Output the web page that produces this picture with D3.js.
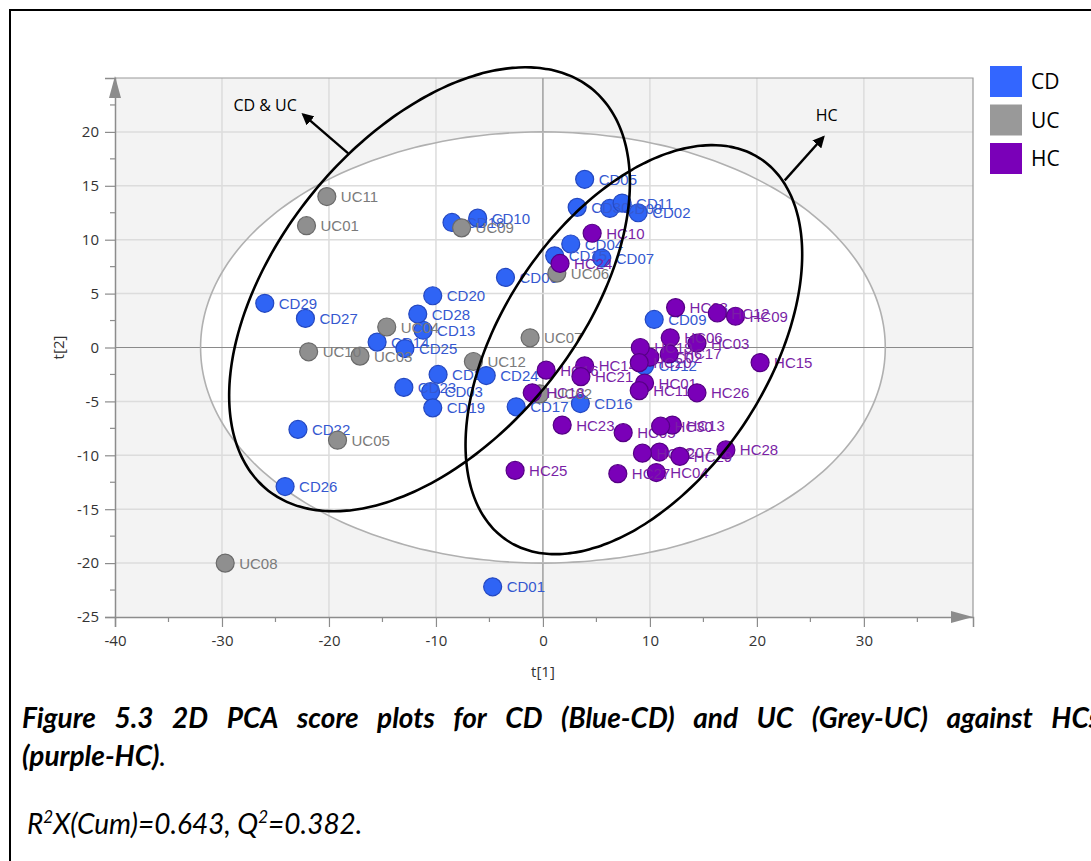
<!DOCTYPE html>
<html>
<head>
<meta charset="utf-8">
<script src="https://cdn.jsdelivr.net/npm/d3@7"></script>
<style>
  body { margin: 0; background: #fff; }
  svg { display: block; }
</style>
</head>
<body>
<svg id="chart" width="1091" height="861"></svg>
<script>
// PCA scores t[1], t[2]
const cdScores = [
  ["CD01", -4.7, -22.2], ["CD02", 8.9, 12.5], ["CD03", -10.5, -4.1], ["CD04", 2.6, 9.6],
  ["CD05", 3.9, 15.6], ["CD06", -3.5, 6.5], ["CD07", 5.5, 8.3], ["CD08", 6.25, 12.9],
  ["CD09", 10.4, 2.6], ["CD10", -6.1, 12.0], ["CD11", 7.4, 13.4], ["CD12", 9.5, -1.7],
  ["CD13", -11.2, 1.6], ["CD14", -15.5, 0.5], ["CD15", 1.1, 8.5], ["CD16", 3.5, -5.2],
  ["CD17", -2.5, -5.5], ["CD18", -8.5, 11.6], ["CD19", -10.3, -5.6], ["CD20", -10.3, 4.8],
  ["CD21", -9.8, -2.5], ["CD22", -22.9, -7.6], ["CD23", -13.0, -3.7], ["CD24", -5.3, -2.6],
  ["CD25", -12.9, -0.1], ["CD26", -24.1, -12.9], ["CD27", -22.2, 2.7], ["CD28", -11.7, 3.1],
  ["CD29", -26.0, 4.1], ["CD30", 3.2, 13.0]
];
const ucScores = [
  ["UC01", -22.1, 11.3], ["UC02", -0.3, -4.3], ["UC03", -17.1, -0.8], ["UC04", -14.6, 1.9],
  ["UC05", -19.2, -8.6], ["UC06", 1.3, 6.9], ["UC07", -1.2, 0.9], ["UC08", -29.7, -20.0],
  ["UC09", -7.6, 11.1], ["UC10", -21.9, -0.4], ["UC11", -20.2, 14.0], ["UC12", -6.5, -1.3]
];
const hcScores = [
  ["HC01", 9.5, -3.3], ["HC02", 10.0, -0.9], ["HC03", 14.4, 0.4], ["HC04", 10.6, -11.6],
  ["HC05", 7.5, -7.9], ["HC06", 11.9, 0.9], ["HC07", 10.9, -9.7], ["HC08", 12.4, 3.7],
  ["HC09", 18.0, 2.9], ["HC10", 4.6, 10.6], ["HC11", 9.0, -4.0], ["HC12", 16.3, 3.2],
  ["HC13", 12.1, -7.2], ["HC14", 3.9, -1.7], ["HC15", 20.3, -1.4], ["HC16", 0.3, -2.1],
  ["HC17", 11.8, -0.6], ["HC18", -1.0, -4.2], ["HC19", 9.1, 0.0], ["HC20", 9.0, -1.4],
  ["HC21", 3.55, -2.7], ["HC22", 9.3, -9.8], ["HC23", 1.8, -7.2], ["HC24", 1.6, 7.8],
  ["HC25", -2.6, -11.4], ["HC26", 14.4, -4.2], ["HC27", 7.0, -11.7], ["HC28", 17.1, -9.5],
  ["HC29", 12.8, -10.1], ["HC30", 11.0, -7.3]
];
const groupNames = ["CD", "UC", "HC"];
const xTicks = [-40, -30, -20, -10, 0, 10, 20, 30];
const yTicks = [-25, -20, -15, -10, -5, 0, 5, 10, 15, 20];

// Hotelling T2 ellipse and the two hand-drawn group ellipses (data units, angle in degrees)
const hotelling = { cx: 0, cy: 0, rx: 32, ry: 20, angle: 0 };
const groupEllipses = [
  { cx: -10.6, cy: 5.4, rx: 24.0, ry: 14.1, angle: 50.6 },
  { cx: 8.5, cy: -0.2, rx: 21.3, ry: 12.4, angle: 56 }
];

const colors = {
  CD: { fill: "#2f64f5", stroke: "#2448c0", text: "#3558d0", legend: "#3366ff" },
  UC: { fill: "#8f8f8f", stroke: "#6a6a6a", text: "#7a7a7a", legend: "#999999" },
  HC: { fill: "#7a00b8", stroke: "#560085", text: "#7a1fa6", legend: "#7a00b8" }
};

const svg = d3.select("#chart");
const plot = { left: 115, right: 973, top: 78, bottom: 617 };

const x = d3.scaleLinear().domain([-40, 40.2]).range([plot.left, plot.right]);
const y = d3.scaleLinear().domain([-25, 25]).range([plot.bottom, plot.top]);

// outer frame
svg.append("rect").attr("x", 10).attr("y", 10).attr("width", 1100).attr("height", 900)
  .attr("fill", "none").attr("stroke", "#000").attr("stroke-width", 2);

// plot background
svg.append("rect").attr("x", plot.left).attr("y", plot.top)
  .attr("width", plot.right - plot.left).attr("height", plot.bottom - plot.top)
  .attr("fill", "#f3f3f3");

function ellipsePoints(e) {
  const th = e.angle * Math.PI / 180;
  return d3.range(0, 360, 2).map(deg => {
    const t = deg * Math.PI / 180;
    const u = e.rx * Math.cos(t), v = e.ry * Math.sin(t);
    return [x(e.cx + u * Math.cos(th) - v * Math.sin(th)), y(e.cy + u * Math.sin(th) + v * Math.cos(th))];
  });
}
const closedLine = d3.line().curve(d3.curveCardinalClosed);

svg.append("path").attr("d", closedLine(ellipsePoints(hotelling))).attr("fill", "#fff");

// grid
const grid = svg.append("g");
grid.selectAll("line.gx").data(xTicks.filter(d => d > -40)).enter().append("line")
  .attr("x1", d => x(d)).attr("x2", d => x(d)).attr("y1", plot.top).attr("y2", plot.bottom)
  .attr("stroke", d => d === 0 ? "#8a8a8a" : "#dcdcdc").attr("stroke-width", d => d === 0 ? 1.2 : 1.5);
grid.selectAll("line.gy").data(yTicks.filter(d => d > -25)).enter().append("line")
  .attr("x1", plot.left).attr("x2", plot.right).attr("y1", d => y(d)).attr("y2", d => y(d))
  .attr("stroke", d => d === 0 ? "#8a8a8a" : "#dcdcdc").attr("stroke-width", d => d === 0 ? 1.2 : 1.5);

svg.append("path").attr("d", closedLine(ellipsePoints(hotelling)))
  .attr("fill", "none").attr("stroke", "#b0b0b0").attr("stroke-width", 1.6);

// frame top/right
svg.append("path")
  .attr("d", `M${plot.left},${plot.top}H${plot.right}V${plot.bottom}`)
  .attr("fill", "none").attr("stroke", "#9a9a9a").attr("stroke-width", 1.2);

// axes
const axisCol = "#8c8c8c";
const xAxis = d3.axisBottom(x).tickValues(xTicks).tickSize(10).tickFormat(d => String(d));
const gx = svg.append("g").attr("transform", `translate(0,${plot.bottom})`).call(xAxis);
const yAxis = d3.axisLeft(y).tickValues(yTicks).tickSize(10).tickFormat(d => String(d));
const gy = svg.append("g").attr("transform", `translate(${plot.left},0)`).call(yAxis);
[gx, gy].forEach(g => {
  g.select(".domain").attr("stroke", axisCol).attr("stroke-width", 1.5);
  g.selectAll(".tick line").attr("stroke", axisCol).attr("stroke-width", 1.2);
  g.selectAll(".tick text").attr("fill", "#333").style("font-family", "'Open Sans', sans-serif").style("font-size", "15px");
});
gx.selectAll(".tick text").attr("dy", "1.05em");
gy.selectAll(".tick text").attr("dx", "-0.2em");

svg.append("g").selectAll("line").data(d3.range(-35, 40, 10)).enter().append("line")
  .attr("x1", d => x(d)).attr("x2", d => x(d)).attr("y1", plot.bottom).attr("y2", plot.bottom + 5)
  .attr("stroke", axisCol).attr("stroke-width", 1.2);
svg.append("g").selectAll("line").data(d3.range(-22.5, 25, 5)).enter().append("line")
  .attr("x1", plot.left - 5).attr("x2", plot.left).attr("y1", d => y(d)).attr("y2", d => y(d))
  .attr("stroke", axisCol).attr("stroke-width", 1.2);

// axis arrows
svg.append("path")
  .attr("d", `M${plot.left},${plot.top - 2}L${plot.left - 6},${plot.top + 20}L${plot.left + 6},${plot.top + 20}Z`)
  .attr("fill", "#8c8c8c");
svg.append("path")
  .attr("d", `M${plot.right},${plot.bottom}L${plot.right - 22},${plot.bottom - 6}L${plot.right - 22},${plot.bottom + 6}Z`)
  .attr("fill", "#8c8c8c");

// axis titles
svg.append("text").attr("x", x(0)).attr("y", 677).attr("text-anchor", "middle")
  .style("font-family", "'Open Sans', sans-serif").style("font-size", "15px").attr("fill", "#333").text("t[1]");
svg.append("text").attr("transform", `translate(64,${y(0)}) rotate(-90)`).attr("text-anchor", "middle")
  .style("font-family", "'Open Sans', sans-serif").style("font-size", "15px").attr("fill", "#333").text("t[2]");

// score points
const groups = [["CD", cdScores], ["UC", ucScores], ["HC", hcScores]];
groups.forEach(([name, rows]) => {
  const c = colors[name];
  const g = svg.append("g");
  const item = g.selectAll("g").data(rows).enter().append("g");
  item.append("circle").attr("cx", d => x(d[1])).attr("cy", d => y(d[2])).attr("r", 9)
    .attr("fill", c.fill).attr("stroke", c.stroke).attr("stroke-width", 1.2);
  item.append("text").attr("x", d => x(d[1]) + 14).attr("y", d => y(d[2]) + 5.5)
    .attr("fill", c.text).style("font-family", "'Liberation Sans', Arial, sans-serif")
    .style("font-size", "15px").text(d => d[0]);
});

// group ellipses
svg.append("g").selectAll("path").data(groupEllipses).enter().append("path")
  .attr("d", d => closedLine(ellipsePoints(d)))
  .attr("fill", "none").attr("stroke", "#000").attr("stroke-width", 2.6);

// annotation arrows
svg.append("defs").append("marker").attr("id", "ah").attr("viewBox", "0 0 10 10")
  .attr("refX", 8).attr("refY", 5).attr("markerWidth", 5).attr("markerHeight", 5).attr("orient", "auto")
  .append("path").attr("d", "M0,0L10,5L0,10Z").attr("fill", "#000");
const annos = [
  { from: [-18.2, 18.0], to: [-22.4, 21.6], label: "CD & UC", lx: -23.0, ly: 21.9, anchor: "end" },
  { from: [22.6, 15.5], to: [26.2, 19.5], label: "HC", lx: 25.5, ly: 21.0, anchor: "start" }
];
annos.forEach(a => {
  svg.append("line").attr("x1", x(a.from[0])).attr("y1", y(a.from[1]))
    .attr("x2", x(a.to[0])).attr("y2", y(a.to[1]))
    .attr("stroke", "#000").attr("stroke-width", 2.4).attr("marker-end", "url(#ah)");
  svg.append("text").attr("x", x(a.lx)).attr("y", y(a.ly)).attr("text-anchor", a.anchor)
    .style("font-family", "'Open Sans', sans-serif").style("font-size", "16px").attr("fill", "#000").text(a.label);
});

// legend
const lg = svg.append("g").attr("transform", "translate(990,66)");
groupNames.forEach((n, i) => {
  lg.append("rect").attr("x", 0).attr("y", i * 38.5).attr("width", 32).attr("height", 31)
    .attr("fill", colors[n].legend);
  lg.append("text").attr("x", 41).attr("y", i * 38.5 + 23).style("font-family", "'Open Sans', sans-serif")
    .style("font-size", "21px").attr("fill", "#000").text(n);
});

// caption
const capFont = "Lato, 'Open Sans', sans-serif";
function justifyLine(text, x0, x1, yb) {
  const words = text.split(" ");
  const g = svg.append("g").style("font-family", capFont).style("font-size", "28px")
    .style("font-weight", "bold").style("font-style", "italic");
  const nodes = words.map(w => g.append("text").attr("y", yb).text(w));
  const widths = nodes.map(n => n.node().getComputedTextLength());
  const gap = (x1 - x0 - d3.sum(widths)) / (words.length - 1);
  let cx = x0;
  nodes.forEach((n, i) => { n.attr("x", cx); cx += widths[i] + gap; });
}
justifyLine("Figure 5.3 2D PCA score plots for CD (Blue-CD) and UC (Grey-UC) against HCs", 22, 1100, 728);

const l2 = svg.append("text").attr("x", 22).attr("y", 766)
  .style("font-family", capFont).style("font-size", "28px").style("font-style", "italic");
l2.append("tspan").style("font-weight", "bold").text("(purple-HC)");
l2.append("tspan").text(".");

const l3 = svg.append("text").attr("x", 27).attr("y", 834)
  .style("font-family", capFont).style("font-size", "28px").style("font-style", "italic");
l3.append("tspan").text("R");
l3.append("tspan").attr("dy", -11).style("font-size", "17px").text("2");
l3.append("tspan").attr("dy", 11).text("X(Cum)=0.643, Q");
l3.append("tspan").attr("dy", -11).style("font-size", "17px").text("2");
l3.append("tspan").attr("dy", 11).text("=0.382.");
</script>
</body>
</html>
